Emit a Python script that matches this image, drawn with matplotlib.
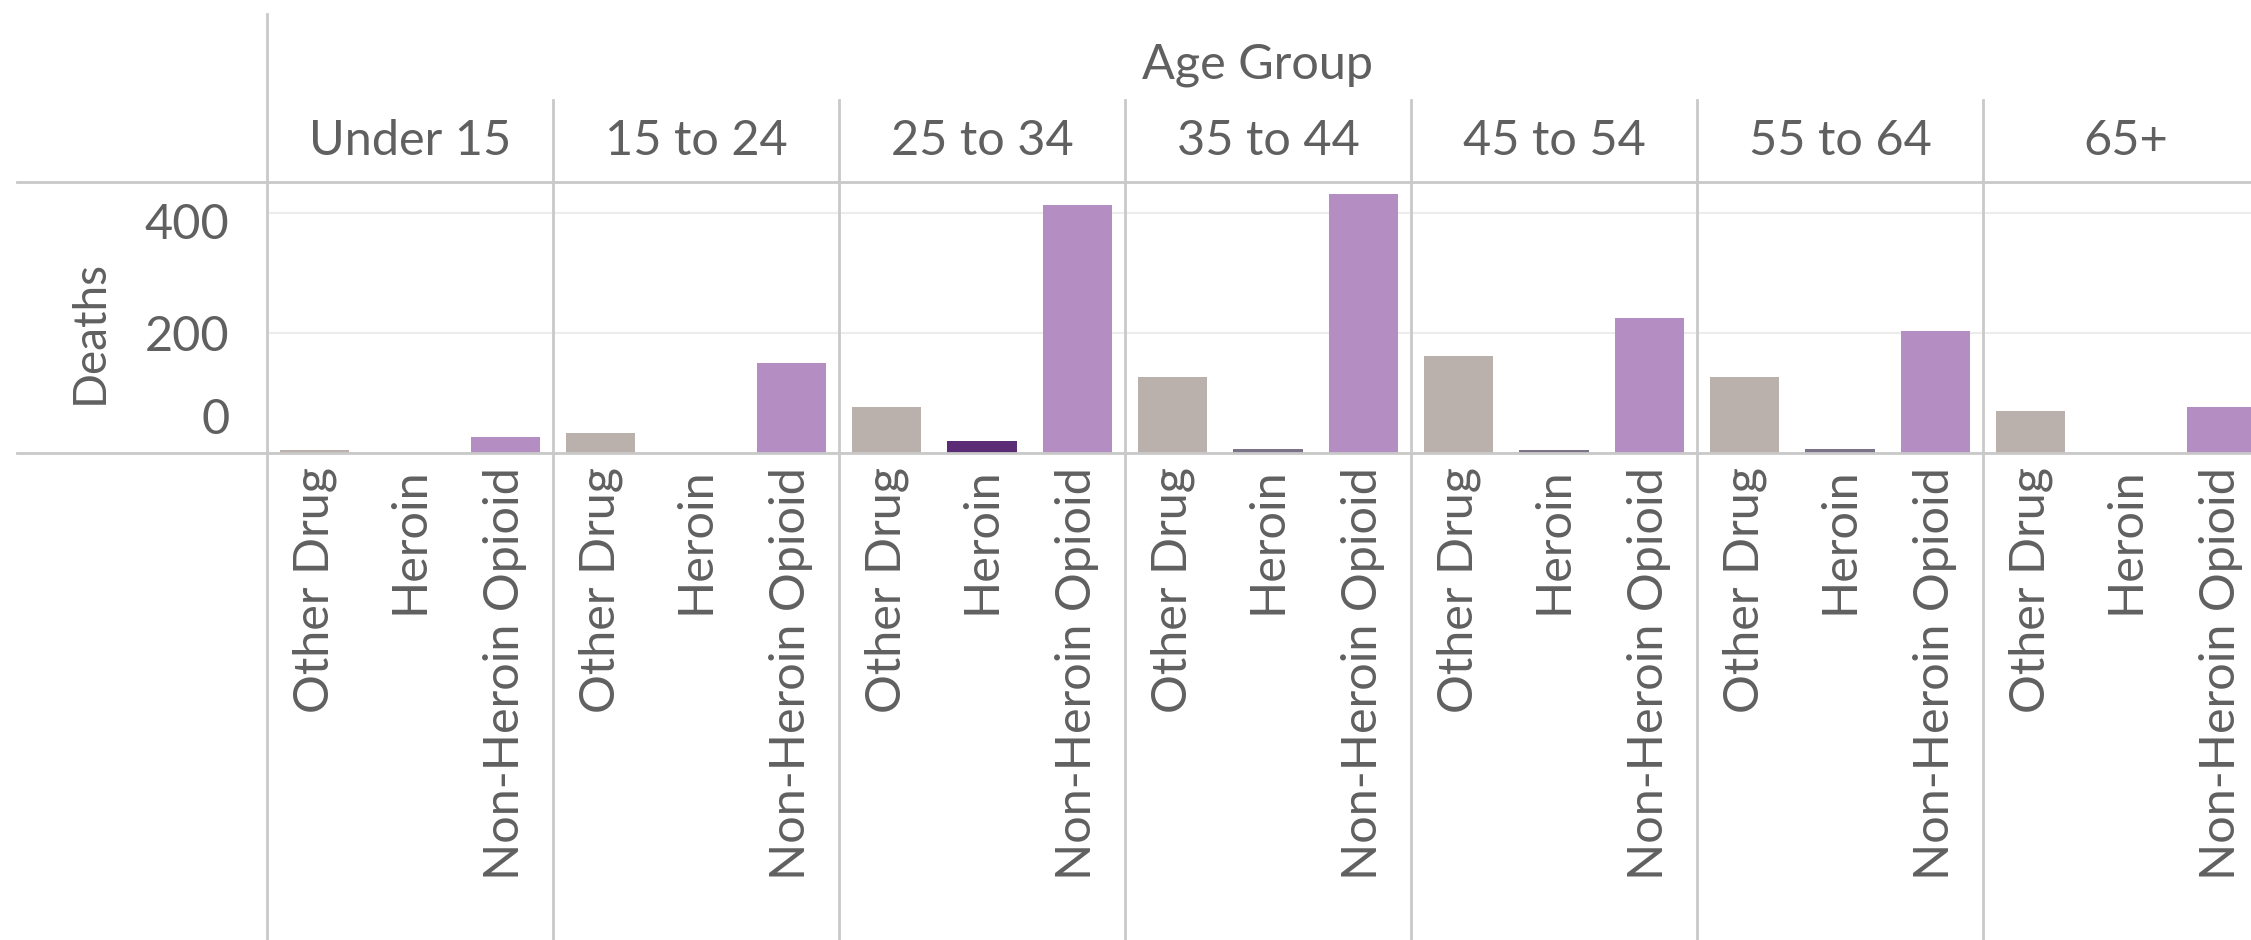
import numpy as np
import matplotlib.pyplot as plt
from matplotlib.lines import Line2D
from matplotlib.transforms import blended_transform_factory, ScaledTranslation

# deaths by age group and drug type
age_groups = ["Under 15", "15 to 24", "25 to 34", "35 to 44", "45 to 54", "55 to 64", "65+"]
drug_types = ["Other Drug", "Heroin", "Non-Heroin Opioid"]
other_drug = [5, 33, 77, 127, 162, 126, 70]
heroin = [0, 0, 20, 7, 5, 6, 0]
non_heroin_opioid = [27, 150, 413, 432, 225, 204, 77]
y_ticks = [0, 200, 400]

plt.rcParams['font.family'] = ['Lato', 'DejaVu Sans']
txt_col = "#606060"
line_col = "#c9c9c9"
colors = ["#bab0ac", "#5b2c75", "#b48ec2"]
heroin_cols = ["#7d7388", "#7d7388", "#5b2c75", "#7d7388", "#7d7388", "#7d7388", "#7d7388"]

W, H = 2251, 940
fig = plt.figure(figsize=(W / 100, H / 100), dpi=100)

# axes box in pixel terms (top-left origin), last panel runs off the right edge
left, right, top, base = 267, 2269, 182, 453
ax = fig.add_axes([left / W, 1 - base / H, (right - left) / W, (base - top) / H])

n = len(drug_types)
values = [other_drug, heroin, non_heroin_opioid]
for j in range(n):
    x = np.arange(len(age_groups)) * n + j
    c = heroin_cols if j == 1 else colors[j]
    ax.bar(x, values[j], width=0.73, color=c, zorder=3)

ax.set_xlim(-0.5, len(age_groups) * n - 0.5)
ax.set_ylim(0, 452)
ax.set_yticks(y_ticks)
ax.set_yticklabels([str(t) for t in y_ticks])
ax.tick_params(axis='y', length=0, pad=27, labelsize=35, labelcolor=txt_col)
# tableau nudges the end labels inside the pane
labs = ax.get_yticklabels()
labs[0].set_transform(labs[0].get_transform() + ScaledTranslation(0, 0.37, fig.dpi_scale_trans))
labs[-1].set_transform(labs[-1].get_transform() + ScaledTranslation(0, -0.08, fig.dpi_scale_trans))

ax.set_xticks(np.arange(len(age_groups) * n))
ax.set_xticklabels(drug_types * len(age_groups), rotation=90)
ax.tick_params(axis='x', length=0, pad=10, labelsize=35, labelcolor=txt_col)

for s in ax.spines.values():
    s.set_visible(False)
ax.grid(axis='y', color="#ececec", lw=1.5, zorder=0)
ax.set_axisbelow(True)

# header text
fig.text(1257 / W, 1 - 65 / H, "Age Group", ha='center', va='center',
         fontsize=35, color=txt_col)
fig.text(90 / W, 1 - 332 / H, "Deaths", ha='center', va='center', rotation=90,
         fontsize=33, color=txt_col)

bt = blended_transform_factory(ax.transData, fig.transFigure)
for i, g in enumerate(age_groups):
    ax.text(i * n + 1, 1 - 141 / H, g, transform=bt, ha='center', va='center',
            fontsize=35, color=txt_col, clip_on=False)

# panel dividers and outer borders
for i in range(1, len(age_groups)):
    xb = i * n - 0.5
    ax.add_line(Line2D([xb, xb], [0, 1 - 100 / H], transform=bt, color=line_col,
                       lw=2, clip_on=False, zorder=5))
ax.add_line(Line2D([-0.5, -0.5], [0, 1 - 14 / H], transform=bt, color=line_col,
                   lw=2, clip_on=False, zorder=5))
for yy in [top, base]:
    fig.add_artist(Line2D([17 / W, 1], [1 - yy / H, 1 - yy / H], color=line_col, lw=2))

fig.savefig("out.png", dpi=100)
